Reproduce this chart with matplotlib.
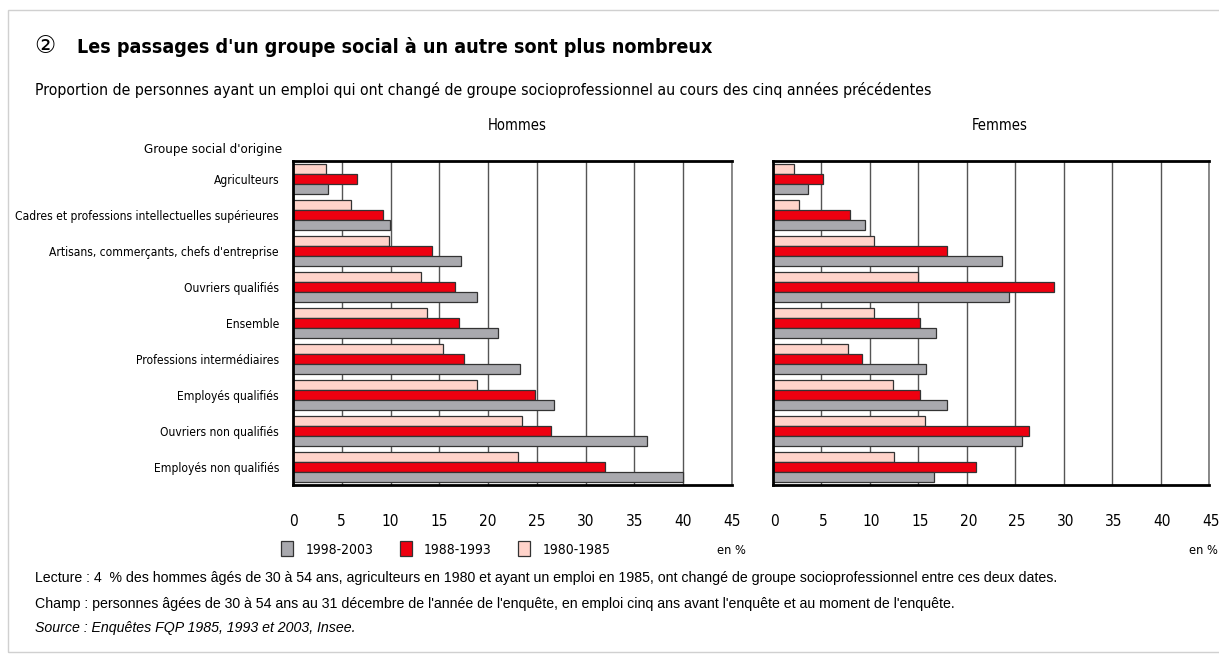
import matplotlib

matplotlib.use("Agg")
import matplotlib.pyplot as plt
import numpy as np
from matplotlib import font_manager
from matplotlib.patches import Rectangle
from matplotlib.transforms import ScaledTranslation

# données (en %)
categories = [
    "Agriculteurs",
    "Cadres et professions intellectuelles supérieures",
    "Artisans, commerçants, chefs d'entreprise",
    "Ouvriers qualifiés",
    "Ensemble",
    "Professions intermédiaires",
    "Employés qualifiés",
    "Ouvriers non qualifiés",
    "Employés non qualifiés",
]
periods = ["1998-2003", "1988-1993", "1980-1985"]

hommes_1980 = [3.4, 5.9, 9.8, 13.1, 13.7, 15.4, 18.9, 23.5, 23.1]
hommes_1988 = [6.6, 9.2, 14.2, 16.6, 17.0, 17.5, 24.8, 26.4, 32.0]
hommes_1998 = [3.6, 9.9, 17.2, 18.9, 21.0, 23.3, 26.8, 36.3, 40.0]

femmes_1980 = [2.2, 2.7, 10.5, 15.0, 10.5, 7.8, 12.4, 15.7, 12.5]
femmes_1988 = [5.2, 8.0, 18.0, 29.0, 15.2, 9.2, 15.2, 26.4, 21.0]
femmes_1998 = [3.7, 9.5, 23.7, 24.4, 16.9, 15.8, 18.0, 25.7, 16.6]

xticks = list(range(0, 50, 5))

C_GREY = "#a9a9ae"
C_RED = "#ee0010"
C_PINK = "#ffd3ca"
FONT = ["Liberation Sans", "DejaVu Sans"]


def narrow_font():
    # police étroite type Arial Narrow si disponible, sinon Liberation Sans
    for fam in ("Liberation Sans Narrow", "Arial Narrow"):
        try:
            font_manager.findfont(font_manager.FontProperties(family=fam),
                                  fallback_to_default=False)
            return dict(family=[fam, "DejaVu Sans"]), 1.0
        except ValueError:
            pass
    path = font_manager.findfont(font_manager.FontProperties(family="DejaVu Sans",
                                                             stretch="condensed"))
    if "Condensed" in path:
        return dict(family=["DejaVu Sans"], stretch="condensed"), 0.92
    return dict(family=FONT), 0.86


NARROW, SCALE = narrow_font()
plt.rcParams["font.family"] = FONT

W, H = 1219, 655
fig = plt.figure(figsize=(W / 100, H / 100), dpi=100)


def fx(px):
    return px / W


def fy(py):
    return 1 - py / H


def panel(rect, v1980, v1988, v1998, show_labels):
    ax = fig.add_axes(rect)
    y = np.arange(len(categories))
    h = 0.27
    kw = dict(height=h, edgecolor="#333333", linewidth=0.9, zorder=2)
    ax.barh(y - h, v1980, color=C_PINK, **kw)
    ax.barh(y, v1988, color=C_RED, **kw)
    ax.barh(y + h, v1998, color=C_GREY, **kw)
    ax.set_xlim(0, 45)
    ax.set_ylim(len(categories) - 0.5, -0.5)
    ax.set_xticks(xticks)
    ax.set_axisbelow(True)
    ax.xaxis.grid(True, color="#555555", linewidth=1.0, zorder=0)
    ax.tick_params(axis="x", length=0, pad=21)
    for lab in ax.get_xticklabels():
        lab.set(fontsize=12.0 * SCALE, **NARROW)
    ax.set_yticks(y)
    if show_labels:
        ax.set_yticklabels(categories, fontsize=9.4 * SCALE, **NARROW)
        ax.tick_params(axis="y", length=0, pad=10)
    else:
        ax.set_yticklabels([])
        ax.tick_params(axis="y", length=0)
    for side in ("top", "left", "bottom"):
        ax.spines[side].set_linewidth(2.0)
        ax.spines[side].set_color("black")
    ax.spines["right"].set_color("#777777")
    ax.spines["right"].set_linewidth(1.2)
    return ax


ax_h = panel([fx(293), fy(485), fx(439), fy(161) - fy(485)],
             hommes_1980, hommes_1988, hommes_1998, True)
ax_f = panel([fx(772.5), fy(485), fx(436.5), fy(161) - fy(485)],
             femmes_1980, femmes_1988, femmes_1998, False)
# les graduations du panneau Femmes sont un peu décalées vers la droite
shift = ScaledTranslation(2 / 100, 0, fig.dpi_scale_trans)
for lab in ax_f.get_xticklabels():
    lab.set_transform(lab.get_transform() + shift)

# cadre gris clair autour de la figure
fig.patches.append(Rectangle((fx(8), fy(652)), fx(1240), fy(10) - fy(652),
                             transform=fig.transFigure, fill=False,
                             edgecolor="#d0d0d0", linewidth=1.0))

fig.text(fx(34), fy(46), "②", family=["DejaVu Sans"], fontsize=17, va="center")
fig.text(fx(77), fy(47), "Les passages d'un groupe social à un autre sont plus nombreux",
         fontsize=15.4 * SCALE, fontweight="bold", va="center", **NARROW)
fig.text(fx(35), fy(90),
         "Proportion de personnes ayant un emploi qui ont changé de groupe "
         "socioprofessionnel au cours des cinq années précédentes",
         fontsize=12.3 * SCALE, va="center", **NARROW)
fig.text(fx(517), fy(126), "Hommes", fontsize=11.5 * SCALE, ha="center", va="center",
         **NARROW)
fig.text(fx(1000), fy(126), "Femmes", fontsize=11.5 * SCALE, ha="center", va="center",
         **NARROW)
fig.text(fx(282), fy(149), "Groupe social d'origine", fontsize=10.4 * SCALE,
         ha="right", va="center", **NARROW)

handles = [Rectangle((0, 0), 1, 1, facecolor=c, edgecolor="#333333", linewidth=0.9)
           for c in (C_GREY, C_RED, C_PINK)]
fig.legend(handles, periods, loc="center left", bbox_to_anchor=(fx(281), fy(549)),
           ncol=3, frameon=False, borderpad=0, borderaxespad=0,
           handlelength=0.85, handleheight=1.25, columnspacing=1.9, handletextpad=0.9,
           prop=font_manager.FontProperties(size=10.9 * SCALE, **NARROW))

fig.text(fx(731), fy(551), "en %", fontsize=10.0 * SCALE, ha="center", va="center",
         **NARROW)
fig.text(fx(1218), fy(551), "en %", fontsize=10.0 * SCALE, ha="right", va="center",
         **NARROW)

fig.text(fx(35), fy(578),
         "Lecture : 4  % des hommes âgés de 30 à 54 ans, agriculteurs en 1980 et ayant un "
         "emploi en 1985, ont changé de groupe socioprofessionnel entre ces deux dates.",
         fontsize=10.2, va="center")
fig.text(fx(35), fy(604),
         "Champ : personnes âgées de 30 à 54 ans au 31 décembre de l'année de l'enquête, "
         "en emploi cinq ans avant l'enquête et au moment de l'enquête.",
         fontsize=10.2, va="center")
fig.text(fx(35), fy(628), "Source : Enquêtes FQP 1985, 1993 et 2003, Insee.",
         fontsize=10.2, style="italic", va="center")

fig.savefig("out.png", dpi=100)
